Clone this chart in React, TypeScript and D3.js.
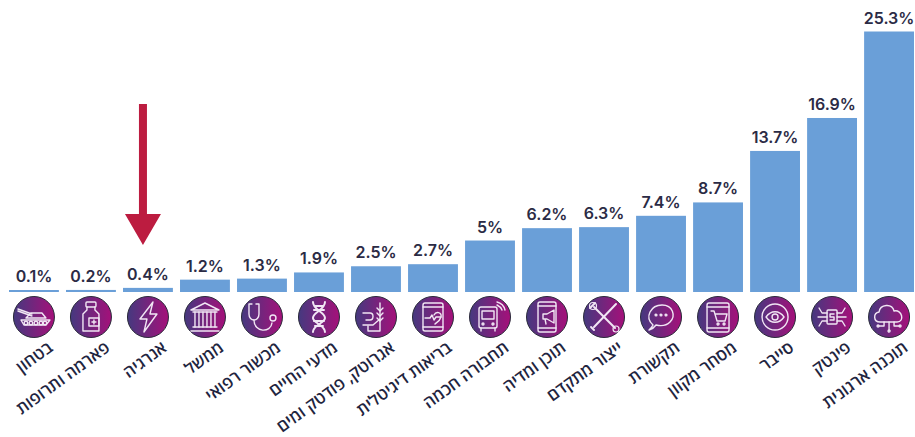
import React from "react";
import * as d3 from "d3";

const labels = ["בטחון","פארמה ותרופות","אנרגיה","ממשל","מכשור רפואי","מדעי החיים","אגרוטק, פודטק ומים","בריאות דיגיטלית","תחבורה חכמה","תוכן ומדיה","ייצור מתקדם","תקשורת","מסחר מקוון","סייבר","פינטק","תוכנה ארגונית"];
const values = [0.1,0.2,0.4,1.2,1.3,1.9,2.5,2.7,5,6.2,6.3,7.4,8.7,13.7,16.9,25.3];
const valueTexts = ["0.1%","0.2%","0.4%","1.2%","1.3%","1.9%","2.5%","2.7%","5%","6.2%","6.3%","7.4%","8.7%","13.7%","16.9%","25.3%"];
const icons = ["tank","bottle","bolt","bank","steth","dna","agri","health","bus","media","tools","chat","cart","eye","chip","cloud"];

const W = 915, H = 437, BASE = 292, TOP = 31.5;

function Icon({ name }: { name: string }) {
  const p = { fill: "none", stroke: "#f1e6f4", strokeWidth: 1.4, strokeLinejoin: "round" as const, strokeLinecap: "round" as const };
  switch (name) {
    case "tank": return <g {...p}>
      <path d="M-16,-8 L-2,-3 M-16,-6 L-2,-1" />
      <path d="M-3,-4 H8 L12,1 H-8 Z" />
      <path d="M-13,3 H16 L12,8 H-10 Z" />
      {[-8,-3,2,7,11].map(x => <circle key={x} cx={x} cy={6} r={1.8} />)}
    </g>;
    case "bottle": return <g {...p}>
      <rect x={-5} y={-15} width={10} height={5} rx={1} />
      <path d="M-4,-10 V-7 L-8,-3 V14 H8 V-3 L4,-7 V-10" />
      <rect x={-2} y={1} width={10} height={8} />
      <path d="M3,3 V7 M1,5 H5" />
    </g>;
    case "bolt": return <path {...p} d="M5,-15 L-8,2 H-1 L-4,15 L9,-3 H2 Z" />;
    case "bank": return <g {...p}>
      <path d="M-14,-7 L0,-14 L14,-7 Z" />
      <path d="M-12,-5 H12 M-14,14 H14 M-12,10 H12" />
      <path d="M-10,-5 V10 M-6,-5 V10 M-2,-5 V10 M2,-5 V10 M6,-5 V10 M10,-5 V10" />
    </g>;
    case "steth": return <g {...p}>
      <path d="M-10,-13 H-13 V-3 C-13,5 -3,5 -3,-3 V-13 H-6" />
      <path d="M-8,3 C-8,16 9,16 10,6" />
      <circle cx={11} cy={1} r={3} />
    </g>;
    case "dna": return <g {...p} strokeWidth={2}>
      <path d="M-6,-15 C-6,-7 6,-5 6,1 C6,6 -6,8 -6,15" />
      <path d="M6,-15 C6,-7 -6,-5 -6,1 C-6,6 6,8 6,15" />
      <path d="M-4,-11 H4 M-5,-7 H5 M-5,4 H5 M-4,9 H4" />
    </g>;
    case "agri": return <g {...p}>
      <path d="M4,-14 V14 H-8 V9" />
      <path d="M1,-9 L4,-6 L7,-9 M1,-4 L4,-1 L7,-4 M1,1 L4,4 L7,1" />
      <path d="M-13,-4 H-6 C-2,-4 -2,3 -6,3 H-10 M-13,8 H-3 L4,2" />
    </g>;
    case "health": return <g {...p}>
      <rect x={-10} y={-14} width={20} height={28} rx={2} />
      <path d="M-10,-10 H10 M-10,10 H10" />
      <path d="M-8,1 H-3 L-1,-2 L1,3 L3,0 H8" />
      <path d="M1,-2 C3,-6 9,-5 8,0 C7,4 3,6 2,7" />
    </g>;
    case "bus": return <g {...p}>
      <rect x={-11} y={-10} width={18} height={21} rx={2} />
      <rect x={-8} y={-6} width={12} height={8} />
      <path d="M-9,11 V14 M5,11 V14" />
      <circle cx={-7} cy={7} r={1} /><circle cx={3} cy={7} r={1} />
      <path d="M7,-15 C11,-14 14,-11 15,-7 M7,-12 C9,-11 11,-10 12,-7" />
    </g>;
    case "media": return <g {...p}>
      <rect x={-9} y={-15} width={18} height={30} rx={2} />
      <path d="M-9,-11 H9 M-9,11 H9" />
      <path d="M-4,-3 H0 L7,-7 V6 L0,2 H-4 Z M-2,2 L-1,7" />
    </g>;
    case "tools": return <g {...p} strokeWidth={2}>
      <path d="M-10,-10 L11,11 M-9,-14 L-14,-9" />
      <path d="M12,-13 L-10,10 M-13,10 L-10,13" />
      <circle cx={12} cy={12} r={3} strokeWidth={1.2} />
      <circle cx={-11} cy={-11} r={3.5} strokeWidth={1.2} />
    </g>;
    case "chat": return <g {...p}>
      <path d="M-8,8 C-17,0 -10,-12 1,-12 C12,-12 15,-1 9,5 C5,9 -1,9 -5,8 C-7,11 -9,12 -12,13 C-10,11 -9,10 -8,8 Z" />
      <circle cx={-5} cy={-2} r={0.9} /><circle cx={0} cy={-2} r={0.9} /><circle cx={5} cy={-2} r={0.9} />
    </g>;
    case "cart": return <g {...p}>
      <rect x={-11} y={-14} width={22} height={29} rx={2} />
      <path d="M-11,-10 H11 M-11,11 H11" />
      <path d="M-7,-6 H-4 L-1,4 H7 L9,-3 H-3" />
      <circle cx={0} cy={7} r={1} /><circle cx={6} cy={7} r={1} />
    </g>;
    case "eye": return <g {...p}>
      <circle r={13} />
      <path d="M-9,0 C-4,-7 4,-7 9,0 C4,7 -4,7 -9,0 Z" />
      <circle r={3} />
    </g>;
    case "chip": return <g {...p}>
      <rect x={-5} y={-7} width={10} height={14} rx={1} />
      <path d="M-5,-4 H-10 L-13,-9 M-5,0 H-14 M-5,4 H-10 L-13,9 M5,-4 H10 L13,-9 M5,0 H14 M5,4 H10 L13,9" />
      <path d="M2,-3 H-2 V0 H2 V3 H-2" />
    </g>;
    default: return <g {...p}>
      <path d="M-9,5 C-16,5 -16,-4 -10,-5 C-9,-13 3,-14 5,-6 C13,-8 16,5 8,5 Z" />
      <path d="M0,5 V13 M-5,5 V9 H-10 M5,5 V9 H10" />
      <circle cx={0} cy={14} r={1} /><circle cx={-11} cy={9} r={1} /><circle cx={11} cy={9} r={1} />
    </g>;
  }
}

export default function App() {
  const x = d3.scaleBand<string>().domain(labels).range([9, 914]).paddingInner(0.125);
  const y = d3.scaleLinear().domain([0, 25.3]).range([BASE, TOP]);
  const arrowX = x(labels[2])! + x.bandwidth() / 2 - 5;
  return (
    <svg width={W} height={H} style={{ position: "absolute", left: 0, top: 0, background: "#fff" }}>
      <defs>
        <linearGradient id="ic" x1="0" x2="1" y1="0" y2="0">
          <stop offset="0" stopColor="#45397f" />
          <stop offset="1" stopColor="#a5107a" />
        </linearGradient>
      </defs>
      {labels.map((l, i) => {
        const bx = x(l)!, cx = bx + x.bandwidth() / 2;
        const top = Math.min(y(values[i]), BASE - 2);
        return (
          <g key={l}>
            <rect x={bx} y={top} width={x.bandwidth()} height={BASE - top} fill="#6a9fd8" />
            <text x={cx} y={top - 8} textAnchor="middle" fontFamily="Inter" fontWeight={600} fontSize={16} fill="#2b2b45">{valueTexts[i]}</text>
            <g transform={`translate(${cx},317)`}>
              <circle r={20.5} fill="url(#ic)" stroke="#2a2a3a" strokeWidth={1} />
              <Icon name={icons[i]} />
            </g>
            <text transform={`translate(${cx + 20},350) rotate(-36)`} direction="rtl" textAnchor="start" fontFamily="'Open Sans','DejaVu Sans'" fontWeight={600} fontSize={16.8} fill="#1f2540">{l}</text>
          </g>
        );
      })}
      <path d={`M${arrowX},245 L${arrowX - 18},214 H${arrowX - 4} V104 H${arrowX + 4} V214 H${arrowX + 18} Z`} fill="#bc1c40" />
    </svg>
  );
}
